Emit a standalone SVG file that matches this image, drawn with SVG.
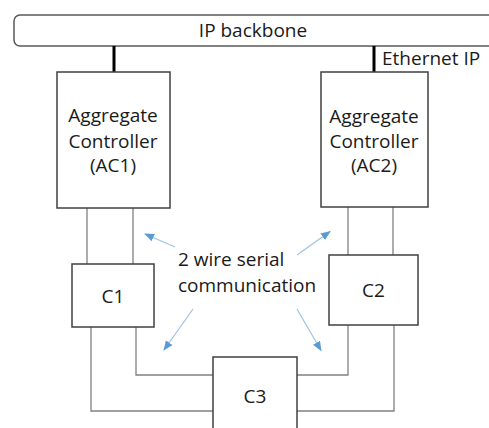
<svg xmlns="http://www.w3.org/2000/svg" width="489" height="428" viewBox="0 0 489 428">
<style>
text{font-family:"Open Sans","Liberation Sans",sans-serif;font-size:19px;fill:#1a1a1a}
.c{text-anchor:middle}
.box{fill:#ffffff;stroke:#404040;stroke-width:1.5}
.wire{fill:none;stroke:#808080;stroke-width:1.3}
.eth{fill:none;stroke:#000000;stroke-width:3}
.arr{fill:none;stroke:#9dc3e6;stroke-width:1.2}
</style>
<defs>
<marker id="ah" markerUnits="userSpaceOnUse" markerWidth="10" markerHeight="10" viewBox="0 0 10 10" refX="9" refY="5" orient="auto">
<path d="M0,1 L10,5 L0,9 Z" fill="#5b9bd5"/>
</marker>
</defs>
<g id="backbone">
<rect x="14" y="15" width="490" height="31" rx="6" ry="6" fill="#ffffff" stroke="#595959" stroke-width="1.5"/>
<text class="c" x="253" y="37">IP backbone</text>
</g>
<g id="connectors">
<line class="eth" x1="114" y1="46" x2="114" y2="72"/>
<line class="eth" x1="374" y1="46" x2="374" y2="72"/>
<line class="wire" x1="87" y1="208" x2="87" y2="264"/>
<line class="wire" x1="133" y1="208" x2="133" y2="264"/>
<line class="wire" x1="348" y1="207" x2="348" y2="255"/>
<line class="wire" x1="393" y1="207" x2="393" y2="255"/>
<polyline class="wire" points="91,327 91,411 213,411"/>
<polyline class="wire" points="136,327 136,375 213,375"/>
<polyline class="wire" points="348,325 348,375 297,375"/>
<polyline class="wire" points="394,325 394,411 297,411"/>
<line class="arr" x1="175" y1="247" x2="145" y2="234" marker-end="url(#ah)"/>
<line class="arr" x1="297" y1="255" x2="330" y2="231.5" marker-end="url(#ah)"/>
<line class="arr" x1="193" y1="309" x2="164" y2="350" marker-end="url(#ah)"/>
<line class="arr" x1="297" y1="309" x2="321" y2="350.5" marker-end="url(#ah)"/>
</g>
<g id="eth-label">
<text x="382" y="65">Ethernet IP</text>
</g>
<g id="ac1">
<rect class="box" x="57" y="72" width="113" height="136"/>
<text class="c" x="113" y="122">Aggregate</text>
<text class="c" x="113" y="147.5">Controller</text>
<text class="c" x="113" y="172">(AC1)</text>
</g>
<g id="ac2">
<rect class="box" x="321" y="72" width="107" height="135"/>
<text class="c" x="374" y="122.5">Aggregate</text>
<text class="c" x="374" y="147.5">Controller</text>
<text class="c" x="374" y="172">(AC2)</text>
</g>
<g id="c1">
<rect class="box" x="72" y="264" width="82" height="63"/>
<text class="c" x="113" y="303">C1</text>
</g>
<g id="c2">
<rect class="box" x="329" y="255" width="89" height="70"/>
<text class="c" x="373.5" y="297">C2</text>
</g>
<g id="c3">
<rect class="box" x="213" y="357" width="84" height="80"/>
<text class="c" x="255" y="403">C3</text>
</g>
<g id="label">
<text x="178" y="266">2 wire serial</text>
<text x="178" y="292">communication</text>
</g>
</svg>
